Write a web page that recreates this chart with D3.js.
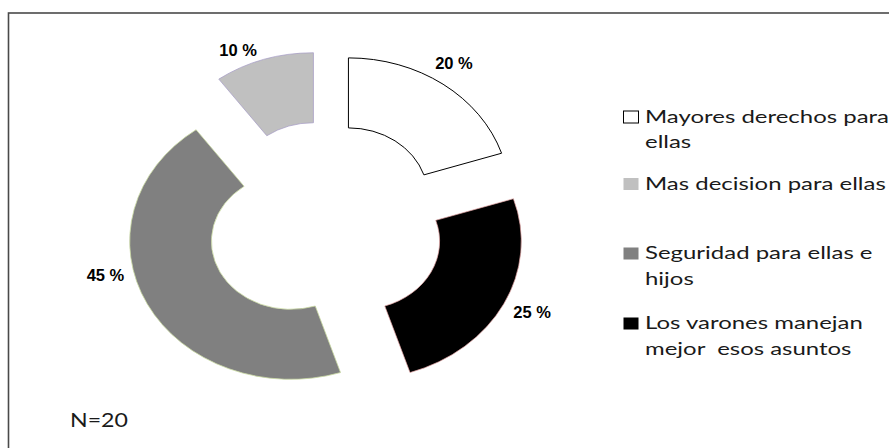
<!DOCTYPE html>
<html>
<head>
<meta charset="utf-8">
<script src="https://cdn.jsdelivr.net/npm/d3@7"></script>
<style>
  html, body { margin: 0; padding: 0; background: #fff; }
  svg { display: block; }
</style>
</head>
<body>
<svg id="chart" width="889" height="448"></svg>
<script>
// Responses (series order, also legend order)
const categories = [
  ["Mayores derechos para", "ellas"],
  ["Mas decision para ellas"],
  ["Seguridad para ellas e", "hijos"],
  ["Los varones manejan", "mejor  esos asuntos"]
];
const percents = [20, 10, 45, 25];
const valueLabels = ["20 %", "10 %", "45 %", "25 %"];
const fills = ["#ffffff", "#c0c0c0", "#808080", "#000000"];
const strokes = ["#000000", "#a49ac4", "#c9d9a2", "#e2a3a3"];
const strokeWidths = [1, 0.7, 0.8, 0.7];
const sampleNote = "N=20";

// Layout
const W = 889, H = 448;
const center = { x: 325.5, y: 225 };
const outerR = 138, innerR = 68;   // vertical radii
const stretchX = 1.167;            // ring is drawn as an ellipse
const explodeX = 39, explodeY = 36;
const rotation = 72 * Math.PI / 180; // first slice ends here, drawn counter-clockwise
const labelR = outerR * 1.15;
const labelNudge = [[-3.3, -4.3], [-18.2, 10], [-20.3, -38.1], [6.8, -1.8]];

const svg = d3.select("#chart");

// Plot frame (runs off the right and bottom edges)
svg.append("rect")
  .attr("x", 8.5).attr("y", 13)
  .attr("width", W + 20).attr("height", H + 20)
  .attr("fill", "none")
  .attr("stroke", "#4a4a4a")
  .attr("stroke-width", 1.6);

const pie = d3.pie()
  .sort(null)
  .value(d => d)
  .startAngle(rotation)
  .endAngle(rotation - 2 * Math.PI);

const arcs = pie(percents);
const arcGen = d3.arc().innerRadius(innerR).outerRadius(outerR);

const slices = svg.append("g").selectAll("g.slice")
  .data(arcs)
  .join("g")
  .attr("class", "slice")
  .attr("transform", d => {
    const mid = (d.startAngle + d.endAngle) / 2;
    const cx = center.x + explodeX * Math.sin(mid);
    const cy = center.y - explodeY * Math.cos(mid);
    d.cx = cx; d.cy = cy; d.mid = mid;
    return `translate(${cx},${cy}) scale(${stretchX},1)`;
  });

slices.append("path")
  .attr("d", arcGen)
  .attr("fill", (d, i) => fills[i])
  .attr("stroke", (d, i) => strokes[i])
  .attr("stroke-width", (d, i) => strokeWidths[i])
  .attr("vector-effect", "non-scaling-stroke");

// Percentage labels outside each slice
svg.append("g").selectAll("text")
  .data(arcs)
  .join("text")
  .attr("x", (d, i) => d.cx + stretchX * labelR * Math.sin(d.mid) + labelNudge[i][0])
  .attr("y", (d, i) => d.cy - labelR * Math.cos(d.mid) + labelNudge[i][1])
  .attr("text-anchor", "middle")
  .attr("dominant-baseline", "central")
  .attr("font-family", "'Liberation Sans', Arial, sans-serif")
  .attr("font-weight", "bold")
  .attr("font-size", 16.5)
  .attr("fill", "#000")
  .text((d, i) => valueLabels[i]);

// Legend
const legend = { x: 623, textX: 645, rows: [122.5, 189.5, 259, 329], lineGap: 26, box: 15, boxH: 12 };
const legendFont = "Lato, 'Open Sans', sans-serif";
const legendSize = 17.5;

// widen the legend glyphs to the chart's horizontal stretch
const probe = svg.append("text")
  .attr("font-family", legendFont).attr("font-size", legendSize)
  .text(categories[0][0]);
const legendScale = 244 / probe.node().getComputedTextLength();
probe.remove();

const lg = svg.append("g");
categories.forEach((lines, i) => {
  const base = legend.rows[i];
  lg.append("rect")
    .attr("x", legend.x + 0.5).attr("y", base - legend.boxH + 0.5)
    .attr("width", legend.box).attr("height", legend.boxH)
    .attr("fill", fills[i])
    .attr("stroke", i === 0 ? "#000" : "none")
    .attr("stroke-width", 1);
  const t = lg.append("text")
    .attr("transform", `translate(${legend.textX},${base}) scale(${legendScale},1)`)
    .attr("font-family", legendFont)
    .attr("font-size", legendSize)
    .attr("fill", "#1a1a1a");
  lines.forEach((line, j) => {
    t.append("tspan")
      .attr("x", 0).attr("y", j * legend.lineGap)
      .attr("xml:space", "preserve")
      .style("white-space", "pre")
      .text(line);
  });
});

// Sample size note
const note = svg.append("text")
  .attr("font-family", legendFont)
  .attr("font-size", 20)
  .attr("fill", "#1a1a1a")
  .text(sampleNote);
const noteScale = 58 / note.node().getComputedTextLength();
note.attr("transform", `translate(70,426.7) scale(${noteScale},1)`);
</script>
</body>
</html>
